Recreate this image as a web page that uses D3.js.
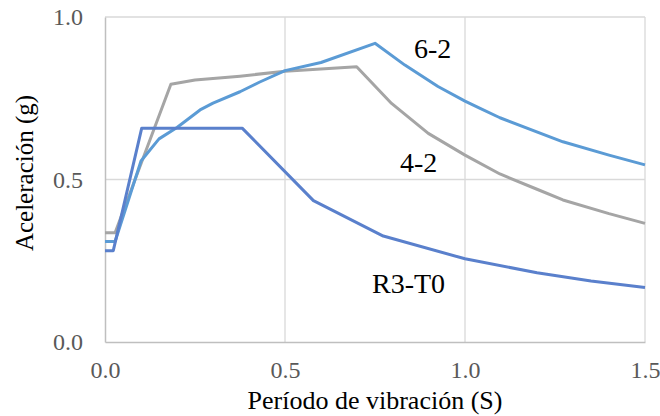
<!DOCTYPE html>
<html>
<head>
<meta charset="utf-8">
<script src="https://cdn.jsdelivr.net/npm/d3@7"></script>
<style>
  body { margin: 0; background: #fff; }
</style>
</head>
<body>
<div id="chart"></div>
<script>
// datos: [periodo, aceleracion]
const serie62 = [[0, 0.309], [0.028, 0.309], [0.1, 0.557], [0.15, 0.625], [0.2, 0.66], [0.264, 0.714],
  [0.3, 0.735], [0.375, 0.77], [0.43, 0.8], [0.5, 0.835], [0.6, 0.86], [0.75, 0.919], [0.833, 0.852],
  [0.925, 0.786], [1.0, 0.741], [1.042, 0.719], [1.097, 0.69], [1.272, 0.616], [1.4, 0.575], [1.5, 0.545]]
const serie42 = [[0, 0.336], [0.028, 0.336], [0.183, 0.793], [0.25, 0.806], [0.375, 0.818], [0.5, 0.833],
  [0.699, 0.847], [0.796, 0.734], [0.898, 0.642], [1.0, 0.575], [1.097, 0.517], [1.2, 0.47],
  [1.272, 0.437], [1.4, 0.395], [1.5, 0.365]]
const serieR3 = [[0, 0.281], [0.023, 0.281], [0.102, 0.658], [0.381, 0.658], [0.579, 0.435],
  [0.773, 0.326], [1.0, 0.256], [1.2, 0.213], [1.35, 0.188], [1.5, 0.168]]
const xTicks = [0, 0.5, 1.0, 1.5]
const yTicks = [0, 0.5, 1.0]

const fuente = '"Liberation Serif", "Times New Roman", Times, serif'
const width = 660
const height = 416
const margin = { top: 17, right: 15, bottom: 74, left: 105 }
const innerW = width - margin.left - margin.right
const innerH = height - margin.top - margin.bottom

const svg = d3.select('#chart').append('svg').attr('width', width).attr('height', height)
const g = svg.append('g').attr('transform', `translate(${margin.left}, ${margin.top})`)

const x = d3.scaleLinear().domain([0, 1.5]).range([0, innerW])
const y = d3.scaleLinear().domain([0, 1.0]).range([innerH, 0])

// rejilla
g.append('g').selectAll('line').data(xTicks.slice(1)).enter().append('line')
  .attr('x1', d => x(d)).attr('x2', d => x(d)).attr('y1', 0).attr('y2', innerH)
  .attr('stroke', '#d9d9d9').attr('stroke-width', 1.3)
g.append('g').selectAll('line').data(yTicks.slice(1)).enter().append('line')
  .attr('x1', 0).attr('x2', innerW).attr('y1', d => y(d)).attr('y2', d => y(d))
  .attr('stroke', '#d9d9d9').attr('stroke-width', 1.3)

// ejes
const xAxis = d3.axisBottom(x).tickValues(xTicks).tickFormat(d3.format('.1f')).tickSize(0).tickPadding(19)
const yAxis = d3.axisLeft(y).tickValues(yTicks).tickFormat(d3.format('.1f')).tickSize(0).tickPadding(22)
const xg = g.append('g').attr('transform', `translate(0, ${innerH})`).call(xAxis)
const yg = g.append('g').call(yAxis)
;[xg, yg].forEach(a => {
  a.attr('font-family', null)
  a.select('.domain').attr('stroke', '#bfbfbf').attr('stroke-width', 1.5)
  a.selectAll('text').attr('fill', '#595959').style('font-size', '24px').style('font-family', fuente)
})

const line = d3.line().x(d => x(d[0])).y(d => y(d[1]))
const series = [
  { datos: serie42, color: '#a5a5a5' },
  { datos: serie62, color: '#5b9bd5' },
  { datos: serieR3, color: '#5a80cc' }
]
series.forEach(s => {
  g.append('path').datum(s.datos).attr('d', line)
    .attr('fill', 'none').attr('stroke', s.color).attr('stroke-width', 3)
    .attr('stroke-linejoin', 'round')
})

// etiquetas
const etiquetas = [['6-2', 414, 58], ['4-2', 400, 172], ['R3-T0', 372, 293]]
svg.selectAll('.etq').data(etiquetas).enter().append('text').attr('class', 'etq')
  .attr('x', d => d[1]).attr('y', d => d[2]).text(d => d[0])
  .style('font-size', '28px').style('font-family', fuente).attr('fill', '#000')

svg.append('text').attr('x', 375).attr('y', 409).attr('text-anchor', 'middle')
  .style('font-size', '26px').style('font-family', fuente).text('Período de vibración (S)')
svg.append('text').attr('transform', `translate(33, 173) rotate(-90)`)
  .attr('text-anchor', 'middle').style('font-size', '25px').style('font-family', fuente).text('Aceleración (g)')
</script>
</body>
</html>
